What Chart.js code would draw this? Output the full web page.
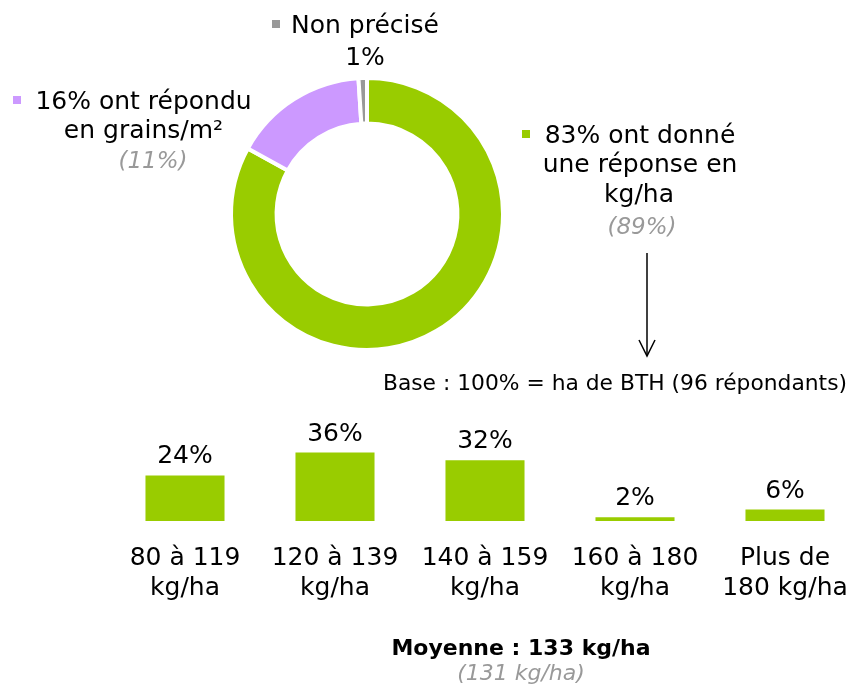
<!DOCTYPE html>
<html lang="fr">
<head>
<meta charset="utf-8">
<title>Réponses en kg/ha</title>
<script src="https://cdn.jsdelivr.net/npm/chart.js@4.4.1/dist/chart.umd.min.js"></script>
<style>
  html, body { margin: 0; padding: 0; background: #ffffff; }
  body { width: 852px; height: 685px; position: relative; overflow: hidden; font-family: "DejaVu Sans", Verdana, sans-serif; }
  #donut { position: absolute; left: 217px; top: 64px; }
  #bars { position: absolute; left: 110px; top: 405px; }
  #notes { position: absolute; left: 0; top: 0; pointer-events: none; }
  #notes text { font-family: "DejaVu Sans", Verdana, sans-serif; }
</style>
</head>
<body>
<canvas id="donut" width="300" height="300"></canvas>
<canvas id="bars" width="750" height="196"></canvas>
<svg id="notes" width="852" height="685" xmlns="http://www.w3.org/2000/svg">
  <!-- Non précisé -->
  <rect x="272" y="20" width="8" height="8" fill="#999999"/>
  <text x="291" y="33" font-size="25" fill="#000">Non précisé</text>
  <text x="365" y="65" font-size="25" fill="#000" text-anchor="middle">1%</text>
  <!-- grains/m² -->
  <rect x="13" y="96" width="8" height="8" fill="#CC99FF"/>
  <text x="143.5" y="109" font-size="25" fill="#000" text-anchor="middle">16% ont répondu</text>
  <text x="143.5" y="138" font-size="25" fill="#000" text-anchor="middle">en grains/m²</text>
  <text x="153" y="168" font-size="23" font-style="italic" fill="#999999" text-anchor="middle">(11%)</text>
  <!-- kg/ha -->
  <rect x="522" y="130" width="8" height="8" fill="#99CC00"/>
  <text x="640" y="143" font-size="25" fill="#000" text-anchor="middle">83% ont donné</text>
  <text x="640" y="172" font-size="25" fill="#000" text-anchor="middle">une réponse en</text>
  <text x="639" y="202" font-size="25" fill="#000" text-anchor="middle">kg/ha</text>
  <text x="642" y="234" font-size="23" font-style="italic" fill="#999999" text-anchor="middle">(89%)</text>
  <!-- arrow -->
  <line x1="647" y1="253" x2="647" y2="356" stroke="#000" stroke-width="1.5"/>
  <polyline points="639,340 647,356 655,340" fill="none" stroke="#000" stroke-width="1.5"/>
  <text x="847" y="390" font-size="21.8" fill="#000" text-anchor="end">Base : 100% = ha de BTH (96 répondants)</text>
  <!-- moyenne -->
  <text x="521" y="655" font-size="22" font-weight="bold" fill="#000" text-anchor="middle">Moyenne : 133 kg/ha</text>
  <text x="521" y="680" font-size="22" font-style="italic" fill="#999999" text-anchor="middle">(131 kg/ha)</text>
</svg>
<script>
// ---- data ----
const donutLabels = ['83% ont donné une réponse en kg/ha', '16% ont répondu en grains/m²', 'Non précisé'];
const donutValues = [83, 16, 1];
const donutColors = ['#99CC00', '#CC99FF', '#999999'];

const barCategories = [['80 à 119', 'kg/ha'], ['120 à 139', 'kg/ha'], ['140 à 159', 'kg/ha'], ['160 à 180', 'kg/ha'], ['Plus de', '180 kg/ha']];
const barValues = [24, 36, 32, 2, 6];

// ---- doughnut ----
new Chart(document.getElementById('donut'), {
  type: 'doughnut',
  data: {
    labels: donutLabels,
    datasets: [{
      data: donutValues,
      backgroundColor: donutColors,
      borderColor: '#ffffff',
      borderWidth: 4,
      radius: 136,
      cutout: '66.5%'
    }]
  },
  options: {
    responsive: false,
    animation: false,
    devicePixelRatio: 1,
    layout: { padding: 0 },
    plugins: { legend: { display: false }, tooltip: { enabled: false } }
  }
});

// ---- bars ----
const valueLabels = {
  id: 'valueLabels',
  afterDatasetsDraw(chart) {
    const ctx = chart.ctx;
    const meta = chart.getDatasetMeta(0);
    ctx.save();
    ctx.font = '25px "DejaVu Sans", Verdana, sans-serif';
    ctx.fillStyle = '#000000';
    ctx.textAlign = 'center';
    ctx.textBaseline = 'alphabetic';
    meta.data.forEach((el, i) => {
      ctx.fillText(barValues[i] + '%', el.x, el.y - 12);
    });
    ctx.restore();
  }
};

new Chart(document.getElementById('bars'), {
  type: 'bar',
  data: {
    labels: barCategories,
    datasets: [{
      data: barValues,
      backgroundColor: '#99CC00',
      borderWidth: 0,
      barPercentage: 0.527,
      categoryPercentage: 1
    }]
  },
  options: {
    responsive: false,
    animation: false,
    devicePixelRatio: 1,
    layout: { autoPadding: false, padding: { top: 21, left: 0, right: 0, bottom: 0 } },
    plugins: { legend: { display: false }, tooltip: { enabled: false } },
    scales: {
      y: { display: false, min: 0, max: 50 },
      x: {
        grid: { display: false, drawTicks: true, tickLength: 23 },
        border: { display: false },
        ticks: {
          color: '#000000',
          font: { family: '"DejaVu Sans", Verdana, sans-serif', size: 25, lineHeight: 1.18 },
          padding: 0,
          maxRotation: 0,
          autoSkip: false
        },
        afterFit(scale) { scale.height = 80; }
      }
    }
  },
  plugins: [valueLabels]
});
</script>
</body>
</html>
